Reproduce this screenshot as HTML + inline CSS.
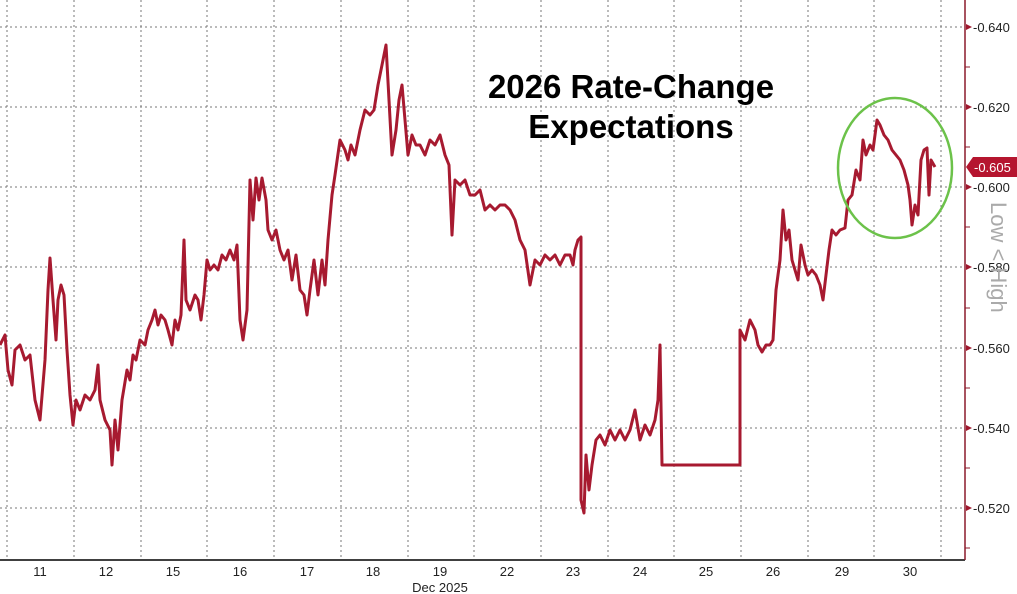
<!DOCTYPE html>
<html><head><meta charset="utf-8"><style>
html,body{margin:0;padding:0;background:#fff;}
svg{display:block;font-family:"Liberation Sans","DejaVu Sans",sans-serif;}
</style></head><body>
<svg width="1017" height="594" viewBox="0 0 1017 594" xmlns="http://www.w3.org/2000/svg">
<rect width="1017" height="594" fill="#fff"/>
<g stroke="#777" stroke-width="1" stroke-dasharray="2,3">
<line x1="0" y1="27" x2="965" y2="27"/><line x1="0" y1="107" x2="965" y2="107"/>
<line x1="0" y1="187" x2="965" y2="187"/><line x1="0" y1="267" x2="965" y2="267"/>
<line x1="0" y1="348" x2="965" y2="348"/><line x1="0" y1="428" x2="965" y2="428"/>
<line x1="0" y1="508" x2="965" y2="508"/>
<line x1="7" y1="0" x2="7" y2="560"/><line x1="74" y1="0" x2="74" y2="560"/>
<line x1="141" y1="0" x2="141" y2="560"/><line x1="207" y1="0" x2="207" y2="560"/>
<line x1="274" y1="0" x2="274" y2="560"/><line x1="341" y1="0" x2="341" y2="560"/>
<line x1="408" y1="0" x2="408" y2="560"/><line x1="474" y1="0" x2="474" y2="560"/>
<line x1="541" y1="0" x2="541" y2="560"/><line x1="608" y1="0" x2="608" y2="560"/>
<line x1="674" y1="0" x2="674" y2="560"/><line x1="741" y1="0" x2="741" y2="560"/>
<line x1="808" y1="0" x2="808" y2="560"/><line x1="874" y1="0" x2="874" y2="560"/>
<line x1="941" y1="0" x2="941" y2="560"/>
</g>
<line x1="0" y1="560" x2="965" y2="560" stroke="#000" stroke-width="1.5"/>
<line x1="965" y1="0" x2="965" y2="560" stroke="#8b1a2b" stroke-width="1.5"/>
<g fill="#a0182e">
<polygon points="966,24 972,27 966,30"/><polygon points="966,104 972,107 966,110"/>
<polygon points="966,184 972,187 966,190"/><polygon points="966,264 972,267 966,270"/>
<polygon points="966,345 972,348 966,351"/><polygon points="966,425 972,428 966,431"/>
<polygon points="966,505 972,508 966,511"/>
</g>
<g stroke="#8b1a2b" stroke-width="1">
<line x1="965" y1="67" x2="970" y2="67"/><line x1="965" y1="147" x2="970" y2="147"/>
<line x1="965" y1="227" x2="970" y2="227"/><line x1="965" y1="308" x2="970" y2="308"/>
<line x1="965" y1="388" x2="970" y2="388"/><line x1="965" y1="468" x2="970" y2="468"/>
<line x1="965" y1="548" x2="970" y2="548"/>
</g>
<g font-size="13" fill="#222">
<text x="973" y="32">-0.640</text><text x="973" y="112">-0.620</text>
<text x="973" y="192">-0.600</text><text x="973" y="272">-0.580</text>
<text x="973" y="353">-0.560</text><text x="973" y="433">-0.540</text>
<text x="973" y="513">-0.520</text>
</g>
<polygon points="966,167 973,157 1017,157 1017,177 973,177" fill="#b5152f"/>
<text x="974" y="172" font-size="13" fill="#fff">-0.605</text>
<text transform="translate(991,202) rotate(90)" font-size="22" fill="#aaa">Low &lt; High</text>
<g font-size="13" fill="#222" text-anchor="middle">
<text x="40" y="576">11</text><text x="106" y="576">12</text><text x="173" y="576">15</text>
<text x="240" y="576">16</text><text x="307" y="576">17</text><text x="373" y="576">18</text>
<text x="440" y="576">19</text><text x="507" y="576">22</text><text x="573" y="576">23</text>
<text x="640" y="576">24</text><text x="706" y="576">25</text><text x="773" y="576">26</text>
<text x="842" y="576">29</text><text x="910" y="576">30</text>
<text x="440" y="592">Dec 2025</text>
</g>
<polyline fill="none" stroke="#a71a30" stroke-width="3" stroke-linejoin="round" points="0,345 5,335 8,370 12,385 15,350 20,345 25,360 30,355 35,400 40,420 45,360 48,290 50,258 53,300 56,340 58,300 61,285 64,295 67,350 70,395 73,425 76,400 80,410 85,395 90,400 95,390 98,365 100,400 105,420 110,430 112,465 115,420 118,450 122,400 127,370 130,380 133,355 136,360 140,340 145,345 148,330 152,320 155,310 158,325 161,315 165,320 168,330 172,345 175,320 178,330 181,315 184,240 186,300 190,310 195,295 198,300 201,320 204,295 207,260 210,270 214,265 218,270 222,255 226,260 230,250 234,260 237,245 240,320 243,340 247,310 250,180 253,220 256,178 259,200 262,178 266,200 268,230 272,240 276,230 280,250 284,260 288,250 292,280 296,255 300,290 304,295 307,315 310,290 314,260 318,295 322,260 325,285 328,240 332,195 335,175 340,140 345,150 348,160 351,145 355,155 360,130 365,110 370,115 374,110 378,85 382,65 386,45 389,100 392,155 396,130 399,100 402,85 405,120 408,155 412,135 416,145 420,145 425,155 430,140 435,145 440,135 445,155 449,165 452,235 455,180 460,185 465,180 470,195 475,195 480,190 485,210 490,205 495,210 500,205 505,205 510,210 515,220 520,240 525,250 530,285 535,260 540,265 545,255 550,260 555,255 560,265 565,255 570,255 573,265 575,250 578,240 581,237 581,500 584,513 586,455 589,490 592,465 596,440 600,435 605,445 610,430 615,440 620,430 625,440 630,430 635,410 640,440 645,425 650,435 655,420 658,400 660,345 662,465 740,465 740,330 745,340 750,320 755,330 758,345 762,352 766,345 770,345 773,340 776,290 780,260 783,210 786,240 789,230 792,260 795,270 798,280 801,245 805,265 808,275 812,270 816,275 820,285 823,300 826,275 829,250 832,230 836,235 840,230 845,228 848,200 852,195 856,170 860,180 863,140 866,155 870,145 873,150 877,120 880,125 884,135 888,140 892,150 896,155 900,160 904,170 908,185 910,200 912,225 915,205 918,215 921,160 924,150 927,148 929,195 931,160 935,167"/>
<ellipse cx="895" cy="168" rx="57" ry="70" fill="none" stroke="#6cc24a" stroke-width="2.5"/>
<g font-size="33" font-weight="bold" fill="#000" text-anchor="middle">
<text x="631" y="98">2026 Rate-Change</text>
<text x="631" y="138">Expectations</text>
</g>
</svg>
</body></html>
